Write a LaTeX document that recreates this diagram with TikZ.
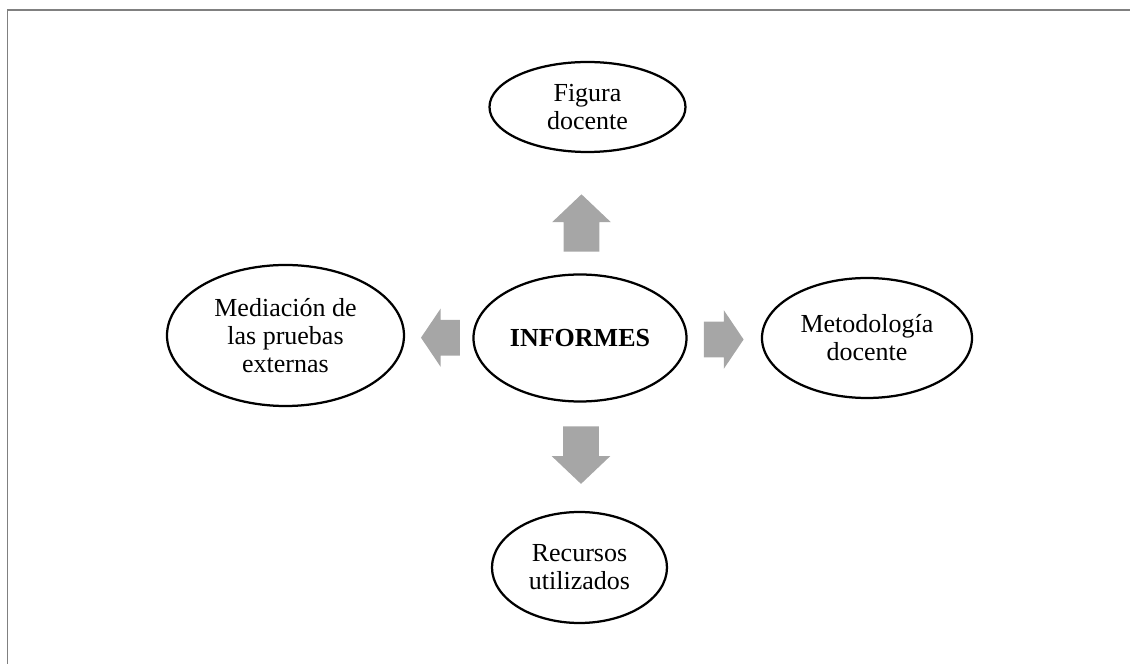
\documentclass[tikz,border=0pt]{standalone}
\usepackage{fontspec}
\setmainfont{Liberation Serif}
\usepackage{tikz}
\usetikzlibrary{shapes.geometric,shapes.arrows}

\definecolor{arrowgray}{HTML}{A6A6A6}
\definecolor{framegray}{HTML}{808080}

\tikzstyle{topic} = [ellipse, draw=black, line width=1.6pt, inner sep=0pt, outer sep=0pt, align=center, font=\fontsize{18.5}{19.8}\selectfont]
\tikzstyle{blockarrow} = [single arrow, fill=arrowgray, draw=none, inner xsep=0pt, inner ysep=0.44cm, outer sep=0pt, anchor=tail, single arrow head extend=0.285cm]

\begin{document}
\begin{tikzpicture}

    \useasboundingbox (-14.5,-8.15) rectangle (13.775,8.45);

    % frame
    \draw[framegray, line width=1.4pt] (-14.3125,-8.15) -- (-14.3125,8.2) -- (13.75,8.2);

    % centre
    \node[topic, minimum width=5.325cm, minimum height=3.175cm] (informes) at (0,0) {\textbf{INFORMES}};

    % top
    \node[topic, minimum width=4.9cm, minimum height=2.25cm] (figura) at (0.1875,5.775) {Figura\\docente};

    % left
    \node[topic, minimum width=5.925cm, minimum height=3.525cm] (mediacion) at (-7.3625,0.0625) {Mediación de\\las pruebas\\externas};

    % right
    \node[topic, minimum width=5.25cm, minimum height=3.0cm] (metodologia) at (7.175,0) {Metodología\\docente};

    % bottom
    \node[topic, minimum width=4.375cm, minimum height=2.775cm] (recursos) at (-0.0125,-5.7375) {Recursos\\utilizados};

    % arrows
    \node[blockarrow, rotate=90, minimum height=1.435cm, minimum width=1.45cm, single arrow tip angle=93] (toup) at (0.0375,2.157) {};
    \node[blockarrow, rotate=-90, minimum height=1.44cm, minimum width=1.44cm, single arrow tip angle=93] (todown) at (0.025,-2.2075) {};
    \node[blockarrow, rotate=180, minimum height=0.975cm, minimum width=1.46cm, single arrow tip angle=112] (toleft) at (-3.0,0.0075) {};
    \node[blockarrow, minimum height=0.99cm, minimum width=1.425cm, single arrow tip angle=112] (toright) at (3.1,-0.0375) {};

\end{tikzpicture}
\end{document}
